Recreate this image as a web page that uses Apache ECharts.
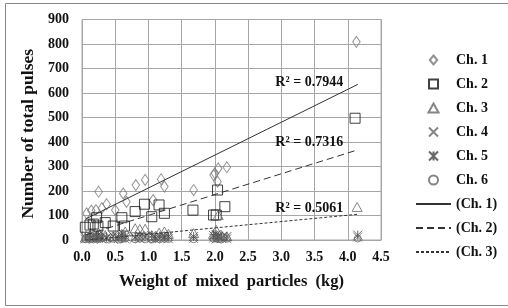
<!DOCTYPE html>
<html>
<head>
<meta charset="utf-8">
<script src="https://cdn.jsdelivr.net/npm/echarts@6/dist/echarts.min.js"></script>
<style>
  html, body { margin: 0; padding: 0; background: #fff; }
  #chart { width: 508px; height: 308px; }
</style>
</head>
<body>
<div id="chart"></div>
<script>
// values: [weight (kg), pulses]
var ch1 = [[0.07,109],[0.14,120],[0.21,122],[0.25,197],[0.3,130],[0.37,146],[0.5,122],[0.62,190],
  [0.67,156],[0.81,224],[0.95,245],[1.07,163],[1.19,248],[1.24,218],[1.68,204],[1.98,265],
  [2.0,272],[2.04,238],[2.05,292],[2.18,297],[4.13,809]];
var ch2 = [[0.05,52],[0.12,61],[0.17,65],[0.22,91],[0.24,57],[0.35,71],[0.47,57],[0.6,91],
  [0.64,57],[0.8,116],[0.94,146],[1.05,95],[1.16,143],[1.24,109],[1.67,122],[1.98,102],
  [2.02,102],[2.04,204],[2.15,136],[4.11,497]];
var ch3 = [[0.05,10],[0.12,20],[0.17,25],[0.22,15],[0.25,30],[0.35,20],[0.47,15],[0.6,25],
  [0.65,35],[0.8,48],[0.87,45],[0.95,46],[1.05,20],[1.16,30],[1.24,35],[1.3,25],[1.68,28],
  [1.98,25],[2.02,41],[2.05,102],[2.1,20],[2.18,15],[4.14,135]];

// the low channels share the same weights
var weights = [0.05,0.12,0.17,0.22,0.25,0.3,0.37,0.47,0.55,0.6,0.65,0.8,0.87,0.95,1.05,1.1,
  1.17,1.24,1.3,1.68,1.98,2.02,2.05,2.1,2.18,4.15];
var ch4 = [4,8,3,6,10,5,7,3,6,9,4,8,5,10,6,4,7,9,5,6,8,4,10,6,5,12];
var ch5 = [12,18,10,15,20,14,11,16,13,19,15,12,17,14,18,12,16,13,15,14,18,22,15,12,14,20];
var ch6 = [3,5,2,6,4,7,3,5,2,4,6,3,5,4,2,6,3,5,4,3,5,6,4,3,5,6];

// trend lines, end points
var trend1 = [[0.05,85],[4.15,635]];
var trend2 = [[0.05,20],[4.15,368]];
var trend3 = [[0.05,-1],[4.15,105]];

var xTicks = ['0.0','0.5','1.0','1.5','2.0','2.5','3.0','3.5','4.0','4.5'];
var yTicks = [0,100,200,300,400,500,600,700,800,900];

function zip(xs, ys) {
  return xs.map(function (x, i) { return [x, ys[i]]; });
}

var font = 'Liberation Serif';
var hollow = 'rgba(0,0,0,0)';

function scatter(name, data, symbol, size, color) {
  return {
    name: name, type: 'scatter', data: data, symbol: symbol, symbolSize: size,
    symbolKeepAspect: true,
    itemStyle: { color: hollow, borderColor: color, borderWidth: 1 },
    z: 3
  };
}

function trend(name, data, dash, r2, at) {
  return {
    name: name, type: 'line', data: data, symbol: 'none', silent: true,
    itemStyle: { color: '#333' },
    lineStyle: { color: '#333', width: 1, type: dash },
    markPoint: {
      symbol: 'circle', symbolSize: 0,
      label: {
        show: true, position: 'left', distance: 0, formatter: r2,
        fontFamily: font, fontWeight: 'bold', fontSize: 14, color: '#111'
      },
      data: [{ coord: at }]
    },
    z: 4
  };
}

var diamond = 'path://M5,0L10,6L5,12L0,6Z';
var square = 'path://M0,0L10,0L10,10L0,10Z';
var triangle = 'path://M5,0L10,9L0,9Z';

var chart = echarts.init(document.getElementById('chart'));
chart.setOption({
  animation: false,
  backgroundColor: '#fff',
  graphic: [{
    type: 'rect', silent: true,
    shape: { x: 5.5, y: 3.5, width: 520, height: 302 },
    style: { fill: 'none', stroke: '#888', lineWidth: 1 }
  }],
  grid: { left: 82, top: 19.5, width: 299, height: 220.5, show: true, borderColor: '#a6a6a6', borderWidth: 1 },
  xAxis: {
    type: 'value', min: 0, max: 4.5, interval: 0.5,
    name: 'Weight of  mixed  particles  (kg)', nameLocation: 'middle', nameGap: 33,
    nameTextStyle: { fontFamily: font, fontWeight: 'bold', fontSize: 16.5, color: '#111' },
    axisLine: { lineStyle: { color: '#a6a6a6' } },
    axisTick: { show: false },
    axisLabel: {
      margin: 10, fontFamily: font, fontWeight: 'bold', fontSize: 14, color: '#111',
      formatter: function (v) { return xTicks[Math.round(v / 0.5)]; }
    },
    splitLine: { show: true, lineStyle: { color: '#a6a6a6' } }
  },
  yAxis: {
    type: 'value', min: 0, max: 900, interval: 100,
    name: 'Number of total pulses', nameLocation: 'middle', nameGap: 36,
    nameTextStyle: { fontFamily: font, fontWeight: 'bold', fontSize: 17.5, color: '#111', padding: [0, 8, 0, 0] },
    axisLine: { show: true, lineStyle: { color: '#a6a6a6' } },
    axisTick: { show: false },
    axisLabel: {
      margin: 13, fontFamily: font, fontWeight: 'bold', fontSize: 14, color: '#111',
      formatter: function (v) { return yTicks[Math.round(v / 100)]; }
    },
    splitLine: { show: true, lineStyle: { color: '#a6a6a6' } }
  },
  legend: {
    orient: 'vertical', left: 410, top: 48,
    itemWidth: 35, itemHeight: 9, itemGap: 10,
    textStyle: { fontFamily: font, fontWeight: 'bold', fontSize: 14, lineHeight: 14, color: '#111' },
    data: [
      'Ch. 1', 'Ch. 2', 'Ch. 3', 'Ch. 4', 'Ch. 5', 'Ch. 6',
      { name: '(Ch. 1)', itemStyle: { opacity: 0 } },
      { name: '(Ch. 2)', itemStyle: { opacity: 0 } },
      { name: '(Ch. 3)', itemStyle: { opacity: 0 } }
    ]
  },
  series: [
    scatter('Ch. 1', ch1, diamond, [9, 11], '#777'),
    scatter('Ch. 2', ch2, square, 10, '#111'),
    scatter('Ch. 3', ch3, triangle, 10, '#666'),
    scatter('Ch. 4', zip(weights, ch4), 'path://M0,0L10,10M10,0L0,10', 9, '#666'),
    scatter('Ch. 5', zip(weights, ch5), 'path://M0,0L10,10M10,0L0,10M5,0L5,10', 9, '#444'),
    scatter('Ch. 6', zip(weights, ch6), 'circle', 7, '#666'),
    trend('(Ch. 1)', trend1, 'solid', 'R² = 0.7944', [3.93, 642]),
    trend('(Ch. 2)', trend2, [7, 4], 'R² = 0.7316', [3.93, 400]),
    trend('(Ch. 3)', trend3, [3, 2], 'R² = 0.5061', [3.93, 127])
  ]
});
</script>
</body>
</html>
